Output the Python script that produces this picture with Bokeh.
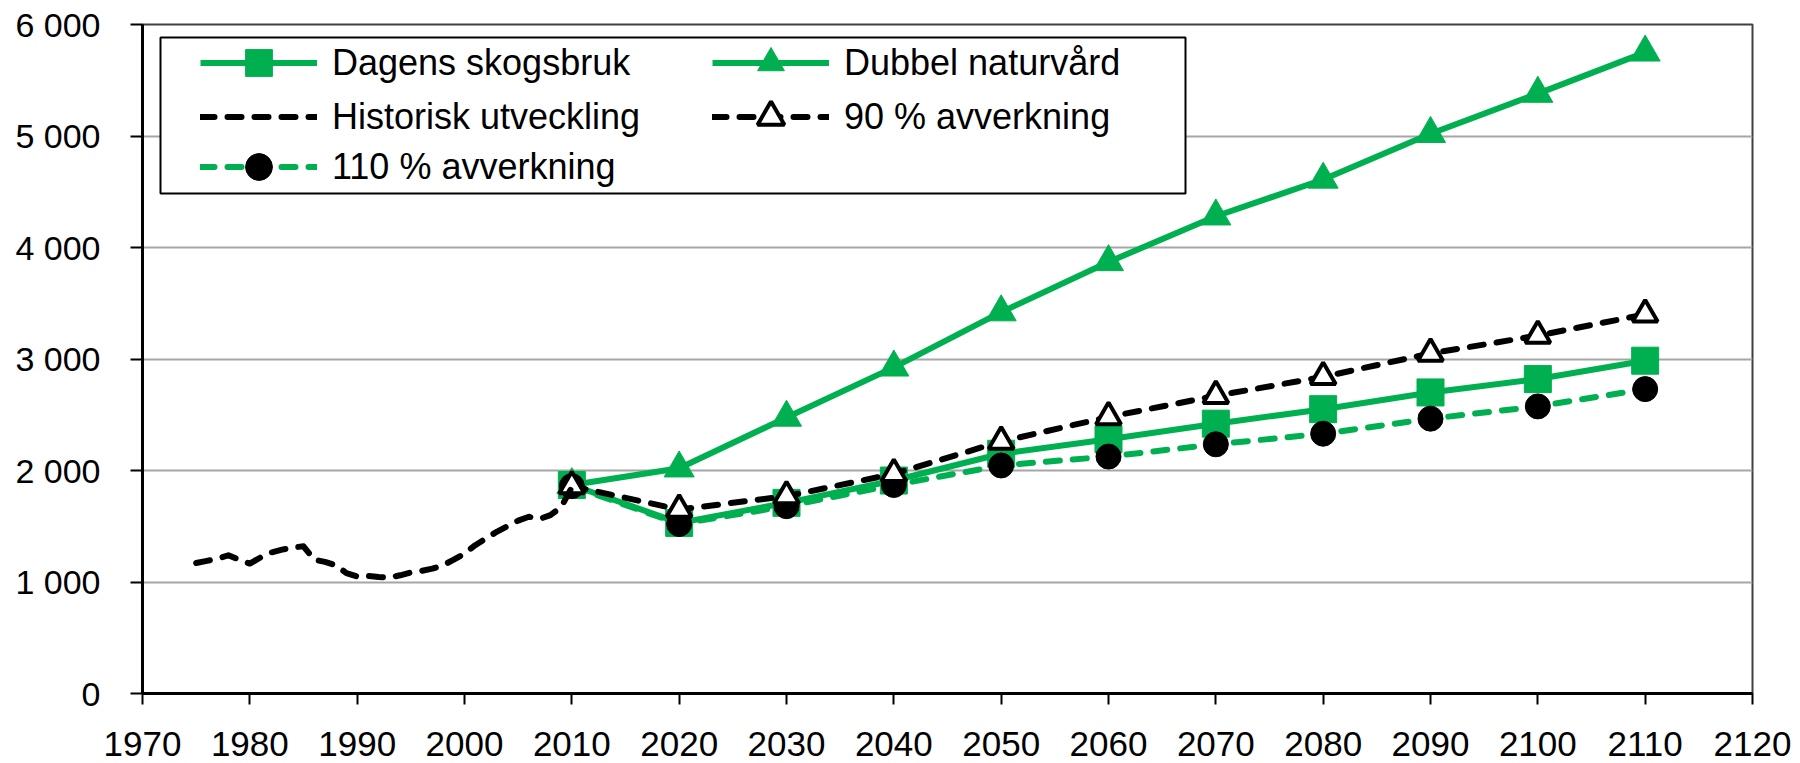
from bokeh.plotting import figure
from bokeh.models import Legend, LegendItem, FixedTicker, Range1d, BoxAnnotation
from bokeh.embed import file_html
from bokeh.resources import INLINE

# ---------------- data ----------------
hist_years = [1975, 1976, 1977, 1978, 1979, 1980, 1981, 1982, 1983, 1984, 1985, 1986,
              1987, 1988, 1989, 1990, 1991, 1992, 1993, 1994, 1995, 1996, 1997, 1998,
              1999, 2000, 2001, 2002, 2003, 2004, 2005, 2006, 2007, 2008, 2009, 2010]
hist_values = [1170, 1190, 1210, 1240, 1200, 1165, 1220, 1265, 1290, 1310, 1320, 1200,
               1180, 1150, 1080, 1050, 1055, 1045, 1040, 1060, 1085, 1100, 1120, 1150,
               1200, 1255, 1330, 1390, 1450, 1500, 1550, 1585, 1565, 1600, 1670, 1850]

proj_years = [2010, 2020, 2030, 2040, 2050, 2060, 2070, 2080, 2090, 2100, 2110]
dagens = [1870, 1530, 1710, 1910, 2150, 2280, 2420, 2550, 2700, 2820, 2985]
dubbel = [1870, 2020, 2475, 2925, 3420, 3870, 4280, 4610, 5020, 5380, 5750]
avv90 = [1860, 1650, 1770, 1970, 2260, 2480, 2670, 2840, 3050, 3210, 3400]
avv110 = [1860, 1520, 1680, 1870, 2045, 2125, 2235, 2330, 2465, 2575, 2730]

series_labels = ["Dagens skogsbruk", "Dubbel naturvård", "Historisk utveckling",
                 "90 % avverkning", "110 % avverkning"]

x_ticks = [1970, 1980, 1990, 2000, 2010, 2020, 2030, 2040, 2050, 2060, 2070, 2080,
           2090, 2100, 2110, 2120]
y_ticks = [0, 1000, 2000, 3000, 4000, 5000, 6000]
y_tick_labels = ["0", "1 000", "2 000", "3 000", "4 000", "5 000", "6 000"]

# ---------------- style ----------------
GREEN = "#00B050"
LW = 6
DASH = "14 13"
FONT = "Liberation Sans"

p = figure(width=1800, height=763, output_backend="svg", toolbar_location=None,
           x_range=Range1d(1970, 2120), y_range=Range1d(0, 6000),
           min_border_left=142, min_border_right=48, min_border_top=24,
           min_border_bottom=70)

p.background_fill_color = "white"
p.border_fill_color = "white"
p.outline_line_color = "#404040"
p.outline_line_width = 2

p.xgrid.grid_line_color = None
p.ygrid.grid_line_color = "#A6A6A6"
p.ygrid.grid_line_width = 2

p.xaxis.ticker = FixedTicker(ticks=x_ticks)
p.yaxis.ticker = FixedTicker(ticks=y_ticks)
p.yaxis.major_label_overrides = dict(zip(y_ticks, y_tick_labels))

for ax in (p.xaxis, p.yaxis):
    ax.axis_line_color = "black"
    ax.axis_line_width = 3
    ax.major_tick_line_color = "black"
    ax.major_tick_line_width = 2
    ax.major_tick_in = 0
    ax.minor_tick_line_color = None
    ax.major_label_text_color = "black"
    ax.major_label_text_font = FONT

p.xaxis.major_tick_out = 11
p.xaxis.major_label_standoff = 27
p.xaxis.major_label_text_font_size = "35px"

p.yaxis.major_tick_out = 12
p.yaxis.major_label_standoff = 30
p.yaxis.major_label_text_font_size = "34px"

# ---------------- series ----------------
l_dag = p.line(proj_years, dagens, line_color=GREEN, line_width=LW, line_join="round")
s_dag = p.scatter(proj_years, dagens, marker="square", size=27, fill_color=GREEN,
                  line_color=GREEN, line_width=1)

l_dub = p.line(proj_years, dubbel, line_color=GREEN, line_width=LW, line_join="round")
s_dub = p.scatter(proj_years, dubbel, marker="triangle", size=30, fill_color=GREEN,
                  line_color=GREEN, line_width=1)

l_110 = p.line(proj_years, avv110, line_color=GREEN, line_width=LW, line_dash=DASH,
               line_cap="round", line_join="round")
s_110 = p.scatter(proj_years, avv110, marker="circle", size=25, fill_color="black",
                  line_color="black", line_width=1)

l_90 = p.line(proj_years, avv90, line_color="black", line_width=LW, line_dash=DASH,
              line_cap="round", line_join="round")
s_90 = p.scatter(proj_years, avv90, marker="triangle", size=25, fill_color="white",
                 line_color="black", line_width=4)

l_hist = p.line(hist_years, hist_values, line_color="black", line_width=LW,
                line_dash=DASH, line_cap="round", line_join="round")

# legend frame
box = BoxAnnotation(left=160, right=1185, top=37, bottom=193,
                    left_units="canvas", right_units="canvas",
                    top_units="canvas", bottom_units="canvas",
                    fill_color="white", fill_alpha=1.0,
                    line_color="black", line_width=2, line_alpha=1.0)
p.add_layout(box)

rows = [
    [LegendItem(label=series_labels[0], renderers=[l_dag, s_dag]),
     LegendItem(label=series_labels[1], renderers=[l_dub, s_dub])],
    [LegendItem(label=series_labels[2], renderers=[l_hist]),
     LegendItem(label=series_labels[3], renderers=[l_90, s_90])],
    [LegendItem(label=series_labels[4], renderers=[l_110, s_110])],
]
row_offsets = [597, 543, 493]
for items, off in zip(rows, row_offsets):
    lg = Legend(items=items, orientation="horizontal", location=(58, off))
    lg.label_text_font = FONT
    lg.label_text_font_size = "36px"
    lg.label_text_color = "black"
    lg.glyph_width = 117
    lg.glyph_height = 67
    lg.label_height = 67
    lg.label_width = 380
    lg.label_standoff = 15
    lg.spacing = 0
    lg.padding = 0
    lg.margin = 0
    lg.border_line_alpha = 0
    lg.background_fill_alpha = 0
    p.add_layout(lg)

open("out.html", "w").write(file_html(p, INLINE))
